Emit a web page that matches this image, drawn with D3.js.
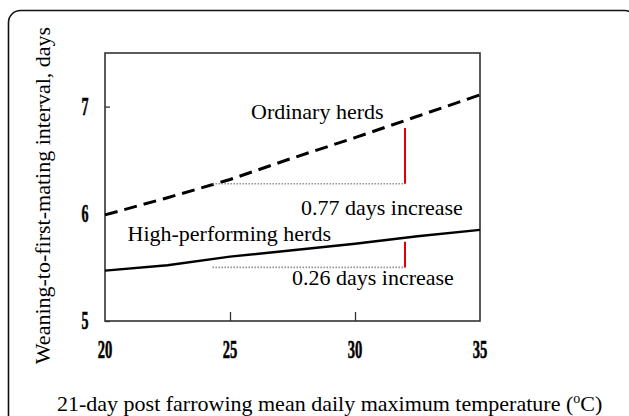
<!DOCTYPE html>
<html>
<head>
<meta charset="utf-8">
<script src="https://cdn.jsdelivr.net/npm/d3@7"></script>
<style>
  html, body { margin: 0; padding: 0; background: #fff; }
  svg { display: block; }
  text { font-family: "Liberation Serif", "Times New Roman", serif; fill: #000; }
</style>
</head>
<body>
<svg id="chart" width="629" height="416"></svg>
<script>
// ---- data ----
const temps = [20, 22.5, 25, 27.5, 30, 32.5, 35];
const ordinaryHerds = [5.99, 6.15, 6.32, 6.52, 6.71, 6.91, 7.11];
const highPerformingHerds = [5.47, 5.52, 5.60, 5.66, 5.72, 5.79, 5.85];
const xTicks = [20, 25, 30, 35];
const yTicks = [5, 6, 7];
const refStartTemp = 24.3;
const refEndTemp = 32;
const ordinaryRef = [6.28, 6.80];   // dotted baseline, red bar top
const highRef = [5.50, 5.74];
const labels = ["Ordinary herds", "0.77 days increase", "High-performing herds", "0.26 days increase"];
const xTitle = "21-day post farrowing mean daily maximum temperature (";
const yTitle = "Weaning-to-first-mating interval, days";

// ---- layout ----
const svg = d3.select("#chart");
const L = 105, R = 480, T = 53, B = 321;
const x = d3.scaleLinear().domain([20, 35]).range([L, R]);
const y = d3.scaleLinear().domain([5, 7.5]).range([B, T]);

// outer rounded frame
svg.append("rect")
  .attr("x", 8.5).attr("y", 10.5)
  .attr("width", 628).attr("height", 430)
  .attr("rx", 12).attr("ry", 12)
  .attr("fill", "none").attr("stroke", "#111").attr("stroke-width", 1.6);

// plot box
svg.append("rect")
  .attr("x", L).attr("y", T)
  .attr("width", R - L).attr("height", B - T)
  .attr("fill", "none").attr("stroke", "#333").attr("stroke-width", 1.6);

// ticks (inward)
const xAxis = d3.axisBottom(x).tickValues(xTicks.filter(d => d > 20 && d < 35)).tickSize(-9).tickFormat("");
svg.append("g").attr("transform", `translate(0,${B})`).call(xAxis)
  .call(g => g.select(".domain").remove())
  .call(g => g.selectAll("line").attr("stroke", "#333").attr("stroke-width", 1.3));
const yAxis = d3.axisLeft(y).tickValues(yTicks).tickSize(-5).tickFormat("");
svg.append("g").attr("transform", `translate(${L},0)`).call(yAxis)
  .call(g => g.select(".domain").remove())
  .call(g => g.selectAll("line").attr("stroke", "#333").attr("stroke-width", 1.3));

// tick labels (bold, condensed)
const sx = 0.56;
svg.append("g").selectAll("text").data(xTicks).join("text")
  .attr("transform", d => `translate(${x(d)},358) scale(${sx},1)`)
  .attr("text-anchor", "middle")
  .attr("font-size", 26).attr("font-weight", "bold")
  .attr("stroke", "#000").attr("stroke-width", 0.6)
  .text(d => d);
svg.append("g").selectAll("text").data(yTicks).join("text")
  .attr("transform", d => `translate(85,${y(d) + 8}) scale(${sx},1)`)
  .attr("text-anchor", "middle")
  .attr("font-size", 25).attr("font-weight", "bold")
  .attr("stroke", "#000").attr("stroke-width", 0.6)
  .text(d => d);

// lines
const line = d3.line().x(d => x(d[0])).y(d => y(d[1]));
svg.append("path")
  .datum(temps.map((t, i) => [t, ordinaryHerds[i]]))
  .attr("d", line).attr("fill", "none")
  .attr("stroke", "#000").attr("stroke-width", 3)
  .attr("stroke-dasharray", "13,7");
svg.append("path")
  .datum(temps.map((t, i) => [t, highPerformingHerds[i]]))
  .attr("d", line).attr("fill", "none")
  .attr("stroke", "#000").attr("stroke-width", 2.4);

// reference dotted lines and red bars
[ordinaryRef, highRef].forEach(r => {
  svg.append("line")
    .attr("x1", x(refStartTemp)).attr("x2", x(refEndTemp))
    .attr("y1", y(r[0])).attr("y2", y(r[0]))
    .attr("stroke", "#8a8a8a").attr("stroke-width", 1.6)
    .attr("stroke-dasharray", "1.4,1.6");
  svg.append("line")
    .attr("x1", x(refEndTemp)).attr("x2", x(refEndTemp))
    .attr("y1", y(r[0])).attr("y2", y(r[1]))
    .attr("stroke", "#e00000").attr("stroke-width", 2);
});

// annotations
const ann = [
  [labels[0], 251, 119],
  [labels[1], 301, 215],
  [labels[2], 127.5, 241],
  [labels[3], 292, 285]
];
svg.append("g").selectAll("text").data(ann).join("text")
  .attr("x", d => d[1]).attr("y", d => d[2])
  .attr("font-size", 22)
  .text(d => d[0]);

// axis titles
svg.append("text")
  .attr("transform", "translate(50,195.5) rotate(-90)")
  .attr("text-anchor", "middle")
  .attr("font-size", 22)
  .text(yTitle);

const xt = svg.append("text")
  .attr("x", 57).attr("y", 410.5)
  .attr("font-size", 22);
xt.append("tspan").text(xTitle);
xt.append("tspan").attr("font-size", 14).attr("dy", -8).text("o");
xt.append("tspan").attr("dy", 8).text("C)");
</script>
</body>
</html>
